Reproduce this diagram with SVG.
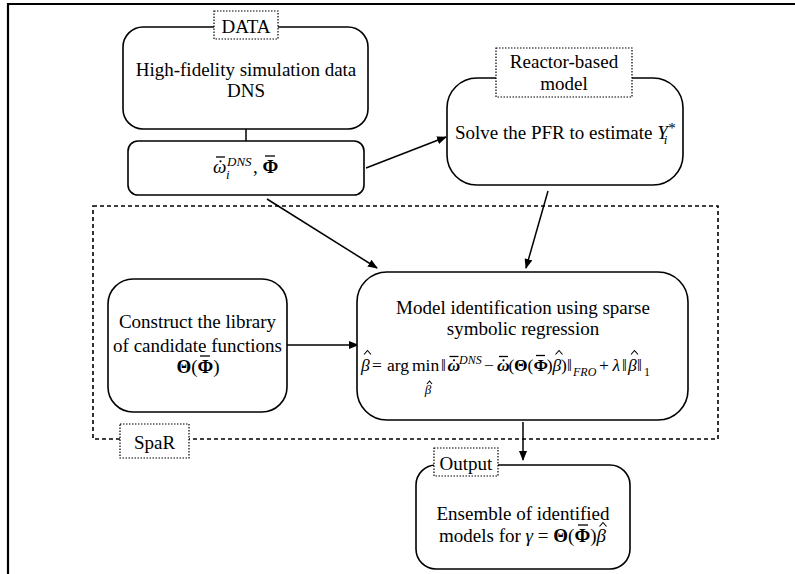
<svg xmlns="http://www.w3.org/2000/svg" width="795" height="574" viewBox="0 0 795 574" font-family="'Liberation Serif', 'Times New Roman', serif">
<style>
text{font-family:"Liberation Serif","Times New Roman",serif;fill:#000;font-size:19px}
.box{fill:#fff;stroke:#000;stroke-width:1.6}
.lab{fill:#fff;stroke:#000;stroke-width:1.2;stroke-dasharray:1.5 1.5}
.frame{fill:none;stroke:#000;stroke-width:1.6;stroke-dasharray:4 3}
.c{text-anchor:middle}
.conn{stroke:#000;stroke-width:1.5;fill:none}
.i{font-style:italic}
.b{font-weight:bold}
.bi{font-weight:bold;font-style:italic}
.s{font-size:13px}
.f{font-size:17.5px}
.fs{font-size:12px}
.bar{stroke:#000;stroke-width:1.3;fill:none}
.hat{stroke:#000;stroke-width:1.1;fill:none;stroke-linejoin:miter}
.dot{fill:#000}
</style>
<defs>
<marker id="ah" markerWidth="10" markerHeight="8" refX="9" refY="4" orient="auto" markerUnits="userSpaceOnUse">
<path d="M0,0 L10,4 L0,8 Z" fill="#000"/>
</marker>
</defs>
<rect width="795" height="574" fill="#fff"/>
<path d="M8,574 V4 H795" fill="none" stroke="#000" stroke-width="2.2"/>

<g id="spar">
<rect class="frame" x="93" y="206" width="625" height="233"/>
<rect class="lab" x="120" y="424" width="69" height="34"/>
<text class="c" x="154.5" y="449">SpaR</text>
</g>

<g id="connectors">
<line class="conn" x1="246" y1="129" x2="246" y2="141"/>
<line class="conn" x1="366" y1="168" x2="446" y2="137" marker-end="url(#ah)"/>
<line class="conn" x1="267" y1="199" x2="377" y2="268" marker-end="url(#ah)"/>
<line class="conn" x1="548" y1="191" x2="526" y2="268" marker-end="url(#ah)"/>
<line class="conn" x1="287" y1="345" x2="358" y2="345" marker-end="url(#ah)"/>
<line class="conn" x1="523" y1="422" x2="523" y2="460" marker-end="url(#ah)"/>
</g>

<g id="data">
<rect class="box" x="123" y="27" width="245" height="102" rx="20"/>
<rect class="lab" x="214" y="11" width="64" height="28"/>
<text class="c" x="246" y="33">DATA</text>
<text class="c" x="246" y="76">High-fidelity simulation data</text>
<text class="c" x="246" y="97">DNS</text>
</g>

<g id="dnsvars">
<rect class="box" x="128" y="141" width="236" height="54" rx="10"/>
<text x="213" y="173"><tspan class="i">ω</tspan><tspan class="i s" x="227" y="166">DNS</tspan><tspan class="i s" x="226" y="179">i</tspan><tspan x="253" y="173">, </tspan><tspan class="b">Φ</tspan></text>
<line class="bar" x1="216" y1="157" x2="225" y2="157"/>
<circle class="dot" cx="220.5" cy="161.3" r="1.1"/>
<line class="bar" x1="265" y1="156" x2="275" y2="156"/>
</g>

<g id="reactor">
<rect class="box" x="447" y="78" width="236" height="107" rx="30"/>
<rect class="lab" x="496" y="48" width="136" height="49"/>
<text class="c" x="564" y="68">Reactor-based</text>
<text class="c" x="564" y="90">model</text>
<text x="455" y="139">Solve the PFR to estimate <tspan class="i">Y</tspan><tspan class="i s" dx="-4" dy="5">i</tspan><tspan font-size="15" dx="1" dy="-11">*</tspan></text>
</g>

<g id="library">
<rect class="box" x="108" y="279" width="179" height="133" rx="25"/>
<text class="c" x="197.5" y="328">Construct the library</text>
<text class="c" x="197.5" y="352">of candidate functions</text>
<text x="176.4" y="373"><tspan class="b">Θ</tspan>(<tspan class="b">Φ</tspan>)</text>
<line class="bar" x1="200" y1="356" x2="210" y2="356"/>
</g>

<g id="model">
<rect class="box" x="357" y="272" width="331" height="148" rx="30"/>
<text class="c" x="523" y="314">Model identification using sparse</text>
<text class="c" x="523" y="335">symbolic regression</text>
<text class="f" y="371"><tspan class="i" x="361">β</tspan><tspan x="372">=</tspan><tspan x="387">arg</tspan><tspan x="412">min</tspan><tspan x="441">‖</tspan><tspan class="bi" x="447.5">ω</tspan><tspan class="i fs" x="459" y="364">DNS</tspan><tspan x="484" y="371">−</tspan><tspan class="bi" x="497">ω</tspan><tspan x="508.5">(</tspan><tspan class="b" x="514">Θ</tspan><tspan x="527.5">(</tspan><tspan class="b" x="533.5">Φ</tspan><tspan x="546.7">)</tspan><tspan class="i" x="552.5">β</tspan><tspan x="561">)</tspan><tspan x="567">‖</tspan><tspan class="i fs" x="573" y="376">FRO</tspan><tspan x="599" y="371">+</tspan><tspan class="i" x="612.5">λ</tspan><tspan x="622">‖</tspan><tspan class="i" x="628">β</tspan><tspan x="637">‖</tspan><tspan class="fs" x="644" y="376">1</tspan></text>
<text class="i s c" x="428" y="394">β</text>
<polyline class="hat" points="364,354.5 367.5,350.5 371,354.5"/>
<polyline class="hat" points="427,384 429.5,381 432,384"/>
<line class="bar" x1="449.5" y1="356.5" x2="458.5" y2="356.5"/>
<circle class="dot" cx="454" cy="360.3" r="1.1"/>
<line class="bar" x1="499" y1="356.5" x2="508" y2="356.5"/>
<circle class="dot" cx="503.5" cy="360.3" r="1.1"/>
<line class="bar" x1="536" y1="355.5" x2="545" y2="355.5"/>
<polyline class="hat" points="555.5,354.5 559,350.5 562.5,354.5"/>
<polyline class="hat" points="631,354.5 634.5,350.5 638,354.5"/>
</g>

<g id="output">
<rect class="box" x="416" y="465" width="214" height="104" rx="20"/>
<rect class="lab" x="434" y="448" width="64" height="28"/>
<text class="c" x="466" y="470">Output</text>
<text class="c" x="523" y="520">Ensemble of identified</text>
<text x="439" y="542">models for <tspan class="i">γ</tspan> = <tspan class="b">Θ</tspan>(<tspan class="b">Φ</tspan>)<tspan class="i">β</tspan></text>
<line class="bar" x1="578" y1="525" x2="588" y2="525"/>
<polyline class="hat" points="599.5,526.5 603,522.5 606.5,526.5"/>
</g>
</svg>
